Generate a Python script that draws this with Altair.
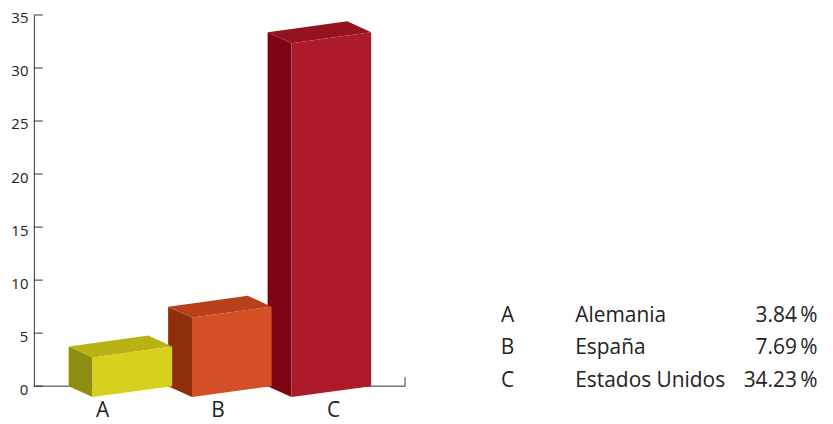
import altair as alt
import pandas as pd

# ---------------- data ----------------
categories = ["A", "B", "C"]
countries = ["Alemania", "España", "Estados Unidos"]
values = [3.84, 7.69, 34.23]
front_colors = ["#D6D11A", "#D35026", "#AD1A29"]
top_colors = ["#B9B214", "#B8401B", "#951320"]
side_colors = ["#8E8D0F", "#8E2F0A", "#7E0313"]
y_ticks = [0, 5, 10, 15, 20, 25, 30, 35]

# ---------------- layout / projection constants ----------------
W, H = 790, 373
YMAX = 35
PPU = H / YMAX            # pixels per unit (same on both axes)
XMAX = W / PPU
BAR_X0, BAR_STEP = 3.28, 9.38   # back-left corner of first bar, spacing
WX, WY = 7.51, 1.03             # bar width direction (screen, in units)
DX, DY = 2.25, -1.03            # depth direction toward viewer
K = 0.975                       # vertical foreshortening
TICK = 9 / PPU
LBL_X0, LBL_STEP, LBL_Y = 6.47, 10.89, -2.3
FONT = "Open Sans"

rows = []
for i, (c, v) in enumerate(zip(categories, values)):
    x0 = BAR_X0 + i * BAR_STEP
    h = v * K
    # left side face
    rows += [
        dict(face=f"{c}-side", layer="side", fill=side_colors[i], x=x0, y=h, y2=0.0),
        dict(face=f"{c}-side", layer="side", fill=side_colors[i], x=x0 + DX, y=DY + h, y2=DY),
    ]
    # front face
    rows += [
        dict(face=f"{c}-front", layer="front", fill=front_colors[i], x=x0 + DX, y=DY + h, y2=DY),
        dict(face=f"{c}-front", layer="front", fill=front_colors[i], x=x0 + DX + WX, y=DY + WY + h, y2=DY + WY),
    ]
    # top face
    xs = [x0, x0 + DX, x0 + WX, x0 + WX + DX]
    up = [h, h + WY * DX / WX, h + WY, h + WY + DY]
    lo = [h, h + DY, h + DY + WY * (WX - DX) / WX, h + WY + DY]
    for xx, a, b in zip(xs, up, lo):
        rows.append(dict(face=f"{c}-top", layer="top", fill=top_colors[i], x=xx, y=a, y2=b))
faces = pd.DataFrame(rows)

xscale = alt.Scale(domain=[0, XMAX], nice=False, zero=False)
yscale = alt.Scale(domain=[0, YMAX], nice=False, zero=False)
yaxis = alt.Axis(values=y_ticks, ticks=False, grid=False, domainColor="#333333",
                 domainWidth=1, labelFont=FONT, labelFontSize=15, labelColor="#222222",
                 labelPadding=6, labelOffset=3, title=None)


def X(f):
    return alt.X(f, type="quantitative", scale=xscale, axis=None, title=None)


def Y(f):
    return alt.Y(f, type="quantitative", scale=yscale, axis=yaxis, stack=None, title=None)


def face_layer(name):
    return alt.Chart(faces[faces.layer == name]).mark_area(interpolate="linear").encode(
        x=X("x"), y=Y("y"), y2="y2",
        fill=alt.Fill("fill:N", scale=None), detail="face:N")


# axes drawn by hand (inward ticks)
xline = alt.Chart(pd.DataFrame({"x": [0], "x2": [YMAX], "y": [0]})).mark_rule(
    color="#333333", strokeWidth=1).encode(x=X("x"), x2="x2", y=Y("y"))
end_tick = alt.Chart(pd.DataFrame({"x": [YMAX], "y": [0], "y2": [TICK]})).mark_rule(
    color="#333333", strokeWidth=1).encode(x=X("x"), y=Y("y"), y2="y2")
yticks = alt.Chart(pd.DataFrame({"y": y_ticks, "x": [0] * len(y_ticks), "x2": [TICK] * len(y_ticks)})).mark_rule(
    color="#333333", strokeWidth=1).encode(x=X("x"), x2="x2", y=Y("y"))

# category labels under the bars
lbl = pd.DataFrame({"cat": categories,
                    "x": [LBL_X0 + i * LBL_STEP for i in range(3)],
                    "y": [LBL_Y] * 3})
xlabels = alt.Chart(lbl).mark_text(font=FONT, fontSize=21, color="#222222",
                                   align="center", baseline="middle").encode(
    x=X("x"), y=Y("y"), text="cat:N")

# legend table
leg = pd.DataFrame({
    "cat": categories,
    "name": countries,
    "pct": [f"{v:.2f}\u2009%" for v in values],
    "y": [6.66 - i * 3.08 for i in range(3)],
})
leg["xc"] = 44.67
leg["xn"] = 51.05
leg["xv"] = 73.9
tstyle = dict(font=FONT, fontSize=21, color="#222222", baseline="middle")
leg_c = alt.Chart(leg).mark_text(align="center", **tstyle).encode(x=X("xc"), y=Y("y"), text="cat:N")
leg_n = alt.Chart(leg).mark_text(align="left", **tstyle).encode(x=X("xn"), y=Y("y"), text="name:N")
leg_v = alt.Chart(leg).mark_text(align="right", **tstyle).encode(x=X("xv"), y=Y("y"), text="pct:N")

chart = alt.layer(
    xline, end_tick, yticks,
    face_layer("side"), face_layer("top"), face_layer("front"),
    xlabels, leg_c, leg_n, leg_v,
).properties(
    width=W, height=H,
    autosize=alt.AutoSizeParams(type="none"),
    padding={"left": 26, "top": 6, "right": 5, "bottom": 36},
).configure(background="white", view=alt.ViewConfig(strokeWidth=0, stroke="transparent"))

chart.save("out.html", embed_options={"renderer": "svg", "actions": False})
